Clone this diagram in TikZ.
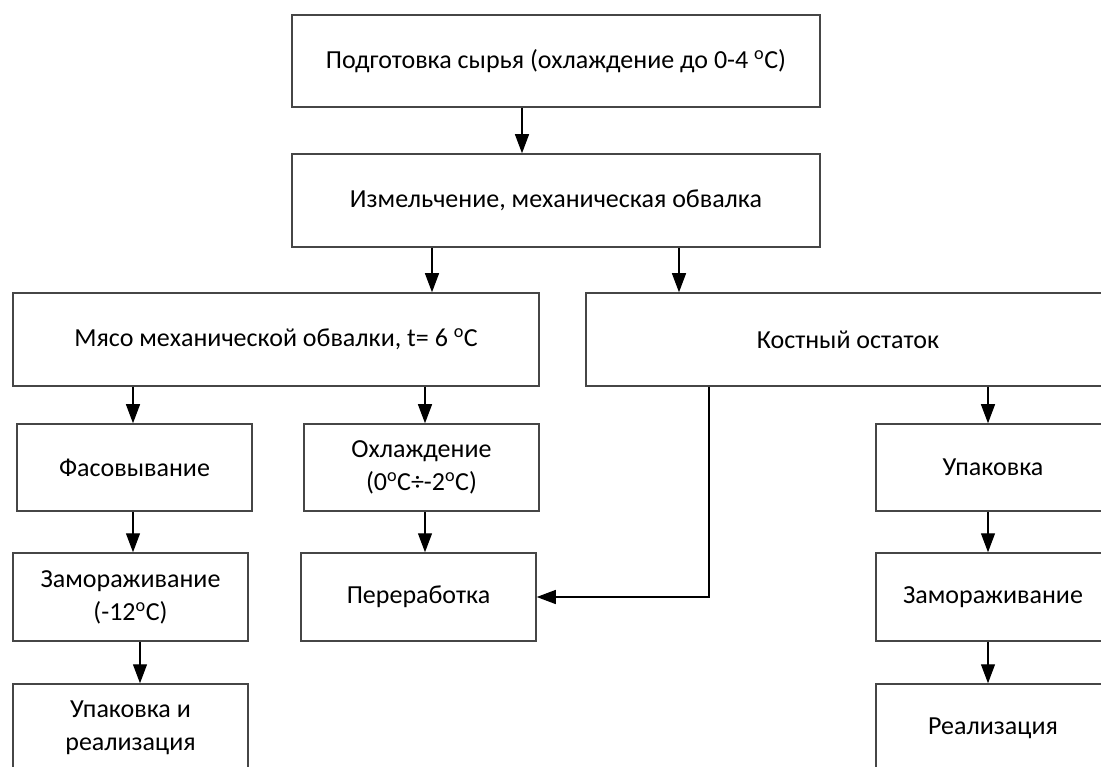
\documentclass[tikz,border=0pt]{standalone}
\usepackage{fontspec}
\setmainfont{Carlito}
\usetikzlibrary{arrows.meta}
\definecolor{boxline}{RGB}{70,70,70}
\tikzset{
  box/.style={draw=boxline, line width=1.5pt, fill=white, inner sep=2pt, align=center,
    font=\fontsize{26}{33}\selectfont},
  arr/.style={draw=black, line width=1.2pt, -{Triangle[length=19pt,width=14pt]}},
}
\begin{document}
\begin{tikzpicture}[x=1pt,y=-1pt]
\useasboundingbox (0,0) rectangle (1101,767);
\clip (0,0) rectangle (1101,767);
% boxes
\node[box, minimum width=528pt, minimum height=92pt] (b1) at (556,61) {Подготовка сырья (охлаждение до 0-4 \textsuperscript{o}C)};
\node[box, minimum width=528pt, minimum height=93pt] (b2) at (556,200.5) {Измельчение, механическая обвалка};
\node[box, minimum width=526pt, minimum height=93pt] (meat) at (276,339.5) {Мясо механической обвалки, t= 6 \textsuperscript{o}C};
\node[box, minimum width=524pt, minimum height=93pt] (bone) at (848,339.5) {Костный остаток};
\node[box, minimum width=235pt, minimum height=87pt] (pack1) at (134.5,467.5) {Фасовывание};
\node[box, minimum width=235pt, minimum height=87pt] (cool) at (421.5,467.5) {Охлаждение\\(0\textsuperscript{o}C÷-2\textsuperscript{o}C)};
\node[box, minimum width=235pt, minimum height=88pt] (freeze1) at (130.5,597) {Замораживание\\(-12\textsuperscript{o}C)};
\node[box, minimum width=235pt, minimum height=88pt] (proc) at (418.5,597) {Переработка};
\node[box, minimum width=235pt, minimum height=88pt] (sell1) at (130.5,728) {Упаковка и\\реализация};
\node[box, minimum width=234pt, minimum height=87pt] (pack2) at (993,467.5) {Упаковка};
\node[box, minimum width=234pt, minimum height=88pt] (freeze2) at (993,597) {Замораживание};
\node[box, minimum width=234pt, minimum height=88pt] (sell2) at (993,728) {Реализация};
% connector x positions
\coordinate (xa) at (522,0);
\coordinate (xb) at (432,0);
\coordinate (xc) at (679,0);
\coordinate (xd) at (133,0);
\coordinate (xe) at (425,0);
\coordinate (xf) at (140,0);
\coordinate (xg) at (988,0);
\coordinate (xh) at (709,0);
% connectors
\draw[arr] (b1.south -| xa) -- (b2.north -| xa);
\draw[arr] (b2.south -| xb) -- (meat.north -| xb);
\draw[arr] (b2.south -| xc) -- (bone.north -| xc);
\draw[arr] (meat.south -| xd) -- (pack1.north -| xd);
\draw[arr] (meat.south -| xe) -- (cool.north -| xe);
\draw[arr] (pack1.south -| xd) -- (freeze1.north -| xd);
\draw[arr] (cool.south -| xe) -- (proc.north -| xe);
\draw[arr] (freeze1.south -| xf) -- (sell1.north -| xf);
\draw[arr] (bone.south -| xh) |- (proc.east);
\draw[arr] (bone.south -| xg) -- (pack2.north -| xg);
\draw[arr] (pack2.south -| xg) -- (freeze2.north -| xg);
\draw[arr] (freeze2.south -| xg) -- (sell2.north -| xg);
\end{tikzpicture}
\end{document}
